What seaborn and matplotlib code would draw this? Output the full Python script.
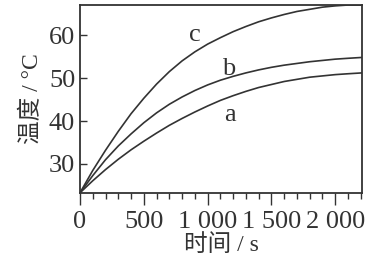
import matplotlib
matplotlib.use("Agg")
import matplotlib.pyplot as plt
import seaborn as sns
import pandas as pd
from matplotlib.ticker import FixedLocator, FixedFormatter, MultipleLocator

# ---- data ----
time_s = [0, 100, 200, 300, 400, 500, 600, 700, 800, 900, 1000, 1100,
          1200, 1300, 1400, 1500, 1600, 1700, 1800, 1900, 2000, 2100, 2210]
temp_a = [23.3, 26.1, 28.7, 31.1, 33.3, 35.3, 37.2, 39.0, 40.6, 42.1, 43.5, 44.8,
          45.9, 46.9, 47.8, 48.5, 49.2, 49.7, 50.2, 50.5, 50.8, 51.0, 51.2]
temp_b = [23.3, 27.3, 31.0, 34.2, 37.0, 39.6, 41.9, 43.9, 45.6, 47.1, 48.4, 49.5,
          50.4, 51.2, 51.9, 52.5, 53.0, 53.4, 53.8, 54.1, 54.4, 54.6, 54.8]
temp_c = [23.3, 28.5, 33.2, 37.6, 41.7, 45.3, 48.6, 51.5, 54.0, 56.1, 57.9, 59.4,
          60.8, 62.0, 63.1, 64.0, 64.8, 65.5, 66.0, 66.5, 66.8, 67.0, 67.0]
curve_names = ["a", "b", "c"]
label_pos = {"a": (1176, 41.4), "b": (1163, 52.2), "c": (902, 60.0)}
x_ticks = [0, 500, 1000, 1500, 2000]
x_tick_labels = ["0", "500", "1 000", "1 500", "2 000"]
y_ticks = [30, 40, 50, 60]
y_tick_labels = ["30", "40", "50", "60"]

df = pd.concat([
    pd.DataFrame({"time": time_s, "temp": vals, "curve": name})
    for name, vals in zip(curve_names, [temp_a, temp_b, temp_c])
])

sns.set_style("ticks")
plt.rcParams["font.family"] = ["Liberation Serif", "Noto Sans CJK SC", "DejaVu Sans"]

ink = "#333333"
fig = plt.figure(figsize=(3.89, 2.64), dpi=100)
ax = fig.add_axes([0.2057, 0.269, 0.725, 0.712])

sns.lineplot(data=df, x="time", y="temp", hue="curve",
             palette={n: ink for n in curve_names}, linewidth=1.2,
             legend=False, ax=ax)

for name in curve_names:
    x, y = label_pos[name]
    ax.text(x, y, name, fontsize=19, color=ink, ha="center", va="center")

ax.set_xlim(0, 2210)
ax.set_ylim(23.25, 67.0)

ax.xaxis.set_major_locator(FixedLocator(x_ticks))
ax.xaxis.set_major_formatter(FixedFormatter(x_tick_labels))
ax.xaxis.set_minor_locator(MultipleLocator(100))
ax.yaxis.set_major_locator(FixedLocator(y_ticks))
ax.yaxis.set_major_formatter(FixedFormatter(y_tick_labels))

ax.tick_params(axis="x", which="major", direction="out", length=8.5, width=1.0,
               color=ink, labelsize=19, labelcolor=ink, pad=4.5)
ax.tick_params(axis="x", which="minor", direction="out", length=4.2, width=1.0,
               color=ink)
ax.tick_params(axis="y", which="major", direction="in", length=5, width=1.0,
               color=ink, labelsize=19, labelcolor=ink, pad=3.5)

for sp in ax.spines.values():
    sp.set_visible(True)
    sp.set_linewidth(1.3)
    sp.set_color(ink)

ax.set_xlabel("时间 / s", fontsize=17, color=ink, labelpad=1)
ax.set_ylabel("温度 / °C", fontsize=17, color=ink, labelpad=4)

fig.savefig("out.png", dpi=100)
